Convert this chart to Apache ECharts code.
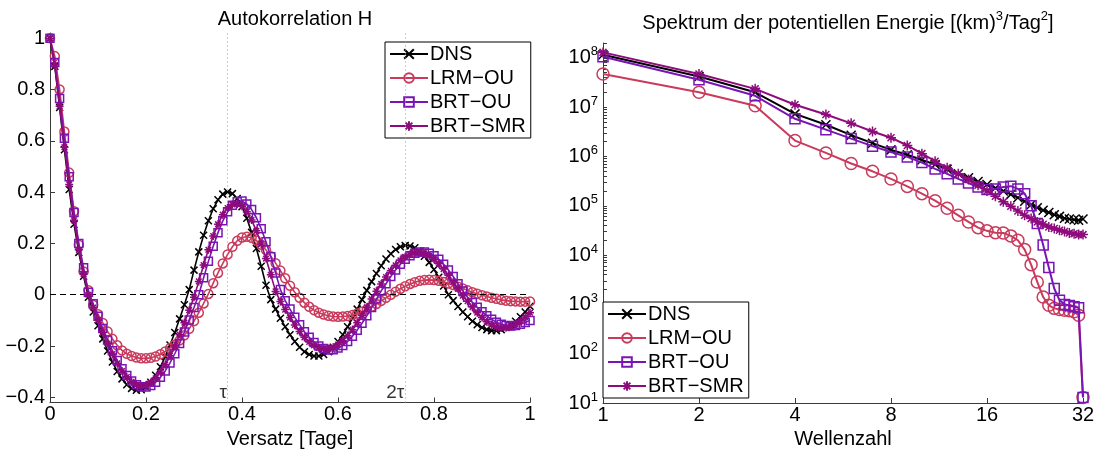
<!DOCTYPE html>
<html>
<head>
<meta charset="utf-8">
<script src="https://cdn.jsdelivr.net/npm/echarts@6/dist/echarts.min.js"></script>
<style>
  html, body { margin: 0; padding: 0; background: #fff; }
  #chart { width: 1100px; height: 449px; }
</style>
</head>
<body>
<div id="chart"></div>
<script>
// ---- Autocorrelation of H versus lag (days) ----
const lagDays = [
  0.00,0.01,0.02,0.03,0.04,0.05,0.06,0.07,0.08,0.09,
  0.10,0.11,0.12,0.13,0.14,0.15,0.16,0.17,0.18,0.19,
  0.20,0.21,0.22,0.23,0.24,0.25,0.26,0.27,0.28,0.29,
  0.30,0.31,0.32,0.33,0.34,0.35,0.36,0.37,0.38,0.39,
  0.40,0.41,0.42,0.43,0.44,0.45,0.46,0.47,0.48,0.49,
  0.50,0.51,0.52,0.53,0.54,0.55,0.56,0.57,0.58,0.59,
  0.60,0.61,0.62,0.63,0.64,0.65,0.66,0.67,0.68,0.69,
  0.70,0.71,0.72,0.73,0.74,0.75,0.76,0.77,0.78,0.79,
  0.80,0.81,0.82,0.83,0.84,0.85,0.86,0.87,0.88,0.89,
  0.90,0.91,0.92,0.93,0.94,0.95,0.96,0.97,0.98,0.99,
  1.00
];
const acfDNS = [
  1.000,0.890,0.730,0.565,0.410,0.275,0.165,0.072,-0.010,-0.067,
  -0.121,-0.172,-0.219,-0.262,-0.299,-0.328,-0.351,-0.365,-0.372,-0.370,
  -0.359,-0.341,-0.314,-0.281,-0.241,-0.196,-0.147,-0.094,-0.039,0.020,
  0.096,0.167,0.232,0.288,0.335,0.370,0.392,0.400,0.394,0.375,
  0.343,0.298,0.243,0.180,0.111,0.037,-0.019,-0.056,-0.092,-0.125,
  -0.156,-0.182,-0.205,-0.222,-0.233,-0.239,-0.239,-0.233,-0.222,-0.205,
  -0.182,-0.156,-0.125,-0.092,-0.056,-0.019,0.017,0.051,0.083,0.113,
  0.139,0.160,0.176,0.187,0.192,0.190,0.183,0.169,0.150,0.126,
  0.098,0.068,0.034,0.000,-0.023,-0.046,-0.067,-0.086,-0.103,-0.117,
  -0.128,-0.136,-0.140,-0.140,-0.136,-0.128,-0.117,-0.103,-0.086,-0.067,
  -0.045
];
const acfLRM = [
  1.000,0.930,0.800,0.636,0.476,0.325,0.195,0.091,0.017,-0.040,
  -0.076,-0.110,-0.143,-0.172,-0.197,-0.217,-0.230,-0.239,-0.245,-0.248,
  -0.248,-0.246,-0.241,-0.232,-0.221,-0.208,-0.194,-0.178,-0.158,-0.133,
  -0.103,-0.070,-0.034,0.003,0.045,0.085,0.122,0.157,0.187,0.210,
  0.223,0.226,0.222,0.211,0.195,0.174,0.150,0.123,0.094,0.064,
  0.035,0.010,-0.012,-0.031,-0.047,-0.060,-0.070,-0.077,-0.082,-0.085,
  -0.086,-0.085,-0.083,-0.079,-0.073,-0.066,-0.057,-0.047,-0.036,-0.024,
  -0.012,0.000,0.012,0.023,0.033,0.042,0.049,0.054,0.057,0.058,
  0.057,0.054,0.050,0.044,0.038,0.031,0.024,0.017,0.010,0.004,
  -0.002,-0.007,-0.012,-0.016,-0.020,-0.023,-0.025,-0.026,-0.027,-0.027,
  -0.026
];
const acfBrtOU = [
  1.000,0.905,0.765,0.610,0.460,0.320,0.200,0.105,0.010,-0.035,
  -0.084,-0.132,-0.176,-0.218,-0.256,-0.288,-0.315,-0.336,-0.351,-0.359,
  -0.360,-0.354,-0.341,-0.322,-0.297,-0.266,-0.230,-0.190,-0.145,-0.098,
  -0.050,0.000,0.066,0.130,0.189,0.242,0.288,0.323,0.349,0.362,
  0.365,0.354,0.332,0.300,0.257,0.206,0.148,0.085,0.020,-0.023,
  -0.056,-0.088,-0.117,-0.144,-0.166,-0.186,-0.200,-0.210,-0.215,-0.214,
  -0.208,-0.198,-0.182,-0.162,-0.138,-0.111,-0.082,-0.050,-0.017,0.015,
  0.043,0.071,0.096,0.119,0.138,0.152,0.162,0.167,0.167,0.162,
  0.152,0.138,0.119,0.096,0.071,0.043,0.015,-0.010,-0.030,-0.049,
  -0.066,-0.082,-0.096,-0.107,-0.115,-0.120,-0.122,-0.120,-0.115,-0.108,
  -0.100
];
const acfBrtSMR = [
  1.000,0.895,0.735,0.575,0.430,0.290,0.175,0.080,0.000,-0.050,
  -0.099,-0.146,-0.190,-0.231,-0.267,-0.297,-0.321,-0.339,-0.351,-0.355,
  -0.352,-0.342,-0.326,-0.302,-0.273,-0.238,-0.199,-0.155,-0.109,-0.060,
  -0.010,0.052,0.116,0.175,0.229,0.275,0.312,0.338,0.352,0.354,
  0.345,0.323,0.291,0.249,0.198,0.141,0.078,0.013,-0.026,-0.058,
  -0.089,-0.118,-0.143,-0.166,-0.184,-0.198,-0.207,-0.212,-0.211,-0.205,
  -0.194,-0.179,-0.160,-0.136,-0.109,-0.080,-0.049,-0.017,0.014,0.042,
  0.069,0.093,0.115,0.134,0.148,0.158,0.164,0.165,0.161,0.152,
  0.138,0.121,0.100,0.076,0.050,0.023,-0.004,-0.025,-0.048,-0.070,
  -0.089,-0.105,-0.118,-0.126,-0.130,-0.129,-0.124,-0.115,-0.102,-0.087,
  -0.070
];
const tauDays = 0.369;
const lagTickValues = [0, 0.2, 0.4, 0.6, 0.8, 1];
const lagTickLabels = ['0', '0.2', '0.4', '0.6', '0.8', '1'];
const acfTickValues = [-0.4, -0.2, 0, 0.2, 0.4, 0.6, 0.8, 1];
const acfTickLabels = ['\u22120.4', '\u22120.2', '0', '0.2', '0.4', '0.6', '0.8', '1'];

// ---- Potential energy spectrum versus wavenumber ----
const wavenumbers = [
  1,2,3,4,5,6,7,8,9,10,11,12,13,14,15,16,
  17,18,19,20,21,22,23,24,25,26,27,28,29,30,31,32
];
const specDNS = [
  1.16e8,4.2e7,2.0e7,7.3e6,4.4e6,2.7e6,1.86e6,1.36e6,1.08e6,8.5e5,6.9e5,5.5e5,4.45e5,3.7e5,3.1e5,2.7e5,
  2.3e5,2.0e5,1.7e5,1.46e5,1.23e5,1.05e5,9.1e4,8.1e4,7.3e4,6.6e4,6.1e4,5.6e4,5.4e4,5.2e4,5.1e4,5.4e4
];
const specLRM = [
  4.7e7,2.0e7,1.07e7,2.1e6,1.18e6,7.2e5,5.0e5,3.5e5,2.47e5,1.76e5,1.27e5,8.9e4,6.4e4,4.7e4,3.6e4,3.1e4,
  2.85e4,2.8e4,2.45e4,2.0e4,1.29e4,6.4e3,2.85e3,1.41e3,960,830,790,760,740,710,600,13
];
const specBrtOU = [
  1.05e8,3.6e7,1.7e7,5.8e6,3.5e6,2.3e6,1.62e6,1.23e6,9.8e5,7.5e5,5.6e5,4.45e5,3.5e5,2.9e5,2.4e5,2.15e5,
  2.2e5,2.4e5,2.5e5,2.2e5,1.76e5,1.0e5,4.35e4,1.6e4,5.6e3,2.1e3,1.22e3,1.0e3,950,900,850,13
];
const specBrtSMR = [
  1.29e8,4.7e7,2.35e7,1.12e7,7.1e6,4.7e6,3.2e6,2.4e6,1.67e6,1.14e6,8.0e5,5.9e5,4.45e5,3.4e5,2.6e5,2.0e5,
  1.56e5,1.2e5,9.8e4,7.8e4,6.4e4,5.5e4,4.7e4,4.2e4,3.7e4,3.45e4,3.2e4,3.0e4,2.8e4,2.7e4,2.6e4,2.6e4
];
const waveTickValues = [1, 2, 4, 8, 16, 32];
const specTickExponents = [1, 2, 3, 4, 5, 6, 7, 8];

const seriesNames = ['DNS', 'LRM\u2212OU', 'BRT\u2212OU', 'BRT\u2212SMR'];

// ---- styling ----
const FONT = '"Liberation Sans", Arial, Helvetica, sans-serif';
const TICK_FONT = 20;
const AXIS_COLOR = '#3a3a3a';
const COLORS = ['#000000', '#c93a5c', '#7a14b4', '#8e0b7c'];
const CROSS = 'path://M0,0L10,10M10,0L0,10';
const ASTERISK = 'path://M5,0L5,10M0,5L10,5M1.5,1.5L8.5,8.5M8.5,1.5L1.5,8.5';
const SYMBOLS = [CROSS, 'circle', 'rect', ASTERISK];
const HOLLOW = 'rgba(255,255,255,0)';
const FILLS = [COLORS[0], HOLLOW, HOLLOW, COLORS[3]];
const LEFT_SIZES = [7, 9, 8, 8];
const RIGHT_SIZES = [9, 12, 10, 10];

function pairs(xs, ys) { return xs.map((x, i) => [x, ys[i]]); }

function curve(idx, axisIdx, xs, ys, size, width, extra) {
  return Object.assign({
    type: 'line',
    name: seriesNames[idx],
    xAxisIndex: axisIdx,
    yAxisIndex: axisIdx,
    data: pairs(xs, ys),
    symbol: SYMBOLS[idx],
    symbolSize: size,
    showSymbol: true,
    lineStyle: { color: COLORS[idx], width: width },
    itemStyle: { color: FILLS[idx], borderColor: COLORS[idx], borderWidth: 1.5 },
    emphasis: { disabled: true },
    z: 3 + idx,
    animation: false
  }, extra || {});
}

const acfSets = [acfDNS, acfLRM, acfBrtOU, acfBrtSMR];
const specSets = [specDNS, specLRM, specBrtOU, specBrtSMR];

const series = [];
acfSets.forEach((ys, i) => {
  const extra = {};
  if (i === 0) {
    extra.markLine = {
      silent: true, symbol: ['none', 'none'], label: { show: false },
      data: [
        { xAxis: tauDays, lineStyle: { type: [1, 3], color: '#9a9a9a', width: 1 } },
        { xAxis: 2 * tauDays, lineStyle: { type: [1, 3], color: '#9a9a9a', width: 1 } },
        { yAxis: 0, lineStyle: { type: [6, 4], color: '#000', width: 1 } }
      ]
    };
  }
  series.push(curve(i, 0, lagDays, ys, LEFT_SIZES[i], 1.6, extra));
});
// tau annotations just above the lag axis
series.push({
  type: 'scatter', xAxisIndex: 0, yAxisIndex: 0, silent: true, z: 2,
  symbolSize: 1, itemStyle: { color: 'rgba(0,0,0,0)' },
  data: [[tauDays, -0.42, '\u03c4'], [2 * tauDays, -0.42, '2\u03c4']],
  label: {
    show: true, position: 'top', align: 'right', distance: 0,
    formatter: p => p.data[2],
    fontFamily: FONT, fontSize: 19, color: '#000'
  }
});
specSets.forEach((ys, i) => {
  series.push(curve(i, 1, wavenumbers, ys, RIGHT_SIZES[i], 2));
});

const baseAxis = {
  axisLine: { show: true, onZero: false, lineStyle: { color: AXIS_COLOR, width: 1 } },
  splitLine: { show: false },
  nameTextStyle: { fontFamily: FONT, fontSize: TICK_FONT, color: '#000' }
};

const minorSpecTicks = [];
specTickExponents.forEach(e => {
  for (let m = 1; m <= 9; m++) {
    const v = m * Math.pow(10, e);
    if (v <= 2e8) minorSpecTicks.push(v);
  }
});

const legendBase = {
  orient: 'vertical',
  data: seriesNames,
  backgroundColor: '#fff',
  borderColor: '#000',
  borderWidth: 1,
  borderRadius: 0,
  padding: [2, 5, 2, 4],
  itemWidth: 38,
  itemHeight: 12,
  itemGap: 4,
  selectedMode: false,
  textStyle: { fontFamily: FONT, fontSize: TICK_FONT, lineHeight: 20, color: '#000', padding: [0, 0, 0, -3] }
};

const option = {
  backgroundColor: '#fff',
  animation: false,
  title: [
    {
      text: 'Autokorrelation H',
      left: 290, top: 4, textAlign: 'center',
      textStyle: { fontFamily: FONT, fontSize: 20, fontWeight: 'normal', color: '#000' }
    },
    {
      text: '{a|Spektrum der potentiellen Energie [(km)}{s|3}{a|/Tag}{s|2}{a|]}',
      left: 843, top: 5, textAlign: 'center',
      textStyle: {
        fontFamily: FONT, fontSize: 20, fontWeight: 'normal', color: '#000',
        rich: {
          a: { fontFamily: FONT, fontSize: 20, color: '#000' },
          s: { fontFamily: FONT, fontSize: 13, color: '#000', padding: [0, 0, 14, 0] }
        }
      }
    }
  ],
  legend: [
    Object.assign({ left: 385, top: 42 }, legendBase),
    Object.assign({ left: 603, top: 302 }, legendBase)
  ],
  grid: [
    { left: 50, top: 33, width: 480, height: 369.5, outerBoundsMode: 'none', containLabel: false },
    { left: 603, top: 43, width: 480, height: 360, outerBoundsMode: 'none', containLabel: false }
  ],
  xAxis: [
    Object.assign({}, baseAxis, {
      type: 'value', gridIndex: 0, min: 0, max: 1,
      name: 'Versatz [Tage]', nameLocation: 'middle', nameGap: 24,
      axisTick: { show: true, inside: true, length: 5, customValues: lagTickValues, lineStyle: { color: AXIS_COLOR } },
      axisLabel: {
        customValues: lagTickValues, margin: 2,
        formatter: v => lagTickLabels[lagTickValues.indexOf(Math.round(v * 10) / 10)],
        fontFamily: FONT, fontSize: TICK_FONT, color: '#000'
      }
    }),
    Object.assign({}, baseAxis, {
      type: 'log', logBase: 2, gridIndex: 1, min: 1, max: 32,
      name: 'Wellenzahl', nameLocation: 'middle', nameGap: 24,
      axisTick: { show: true, inside: true, length: 5, customValues: waveTickValues, lineStyle: { color: AXIS_COLOR } },
      axisLabel: {
        customValues: waveTickValues, margin: 2,
        formatter: v => String(Math.round(v)),
        fontFamily: FONT, fontSize: TICK_FONT, color: '#000'
      }
    })
  ],
  yAxis: [
    Object.assign({}, baseAxis, {
      type: 'value', gridIndex: 0, min: -0.42, max: 1.02,
      axisTick: { show: true, inside: true, length: 5, customValues: acfTickValues, lineStyle: { color: AXIS_COLOR } },
      axisLabel: {
        customValues: acfTickValues, margin: 5,
        formatter: v => acfTickLabels[acfTickValues.indexOf(Math.round(v * 10) / 10)],
        fontFamily: FONT, fontSize: TICK_FONT, color: '#000'
      }
    }),
    Object.assign({}, baseAxis, {
      type: 'log', logBase: 10, gridIndex: 1, min: 10, max: 2e8,
      axisTick: { show: true, inside: true, length: 4, customValues: minorSpecTicks, lineStyle: { color: AXIS_COLOR } },
      axisLabel: {
        customValues: specTickExponents.map(e => Math.pow(10, e)), margin: 5,
        formatter: v => '{b|10}{e|' + Math.round(Math.log10(v)) + '}',
        rich: {
          b: { fontFamily: FONT, fontSize: TICK_FONT, color: '#000' },
          e: { fontFamily: FONT, fontSize: 13, color: '#000', padding: [0, 0, 12, 0] }
        }
      }
    })
  ],
  series: series
};

const chart = echarts.init(document.getElementById('chart'), null, { renderer: 'canvas' });
chart.setOption(option);
</script>
</body>
</html>
